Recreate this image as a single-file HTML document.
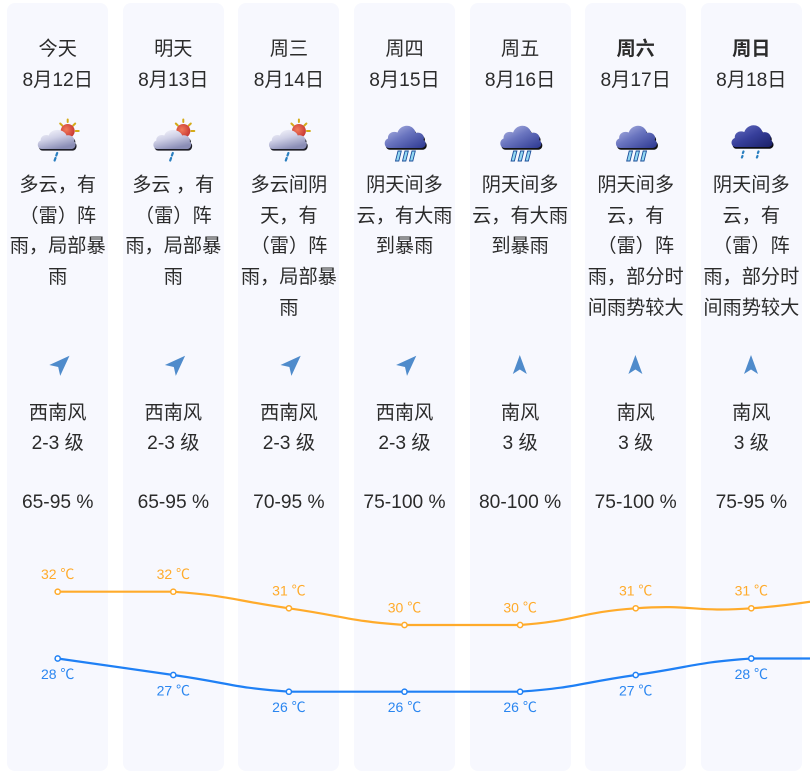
<!DOCTYPE html>
<html><head><meta charset="utf-8">
<style>
html,body{margin:0;padding:0;background:#fff;}
body{width:810px;height:772px;position:relative;overflow:hidden;font-family:"Liberation Sans","Noto Sans CJK SC",sans-serif;color:#2b2b2b;}
.col{position:absolute;top:3px;width:101px;height:768px;background:#f7f8fe;border-radius:8px;}
.t{position:absolute;width:140px;text-align:center;font-size:19.2px;line-height:30.7px;white-space:nowrap;}
.b{font-weight:bold;}
svg{position:absolute;left:0;top:0;}
</style></head><body>

<div class="col" style="left:7.2px"></div>
<div class="col" style="left:122.8px"></div>
<div class="col" style="left:238.4px"></div>
<div class="col" style="left:354px"></div>
<div class="col" style="left:469.6px"></div>
<div class="col" style="left:585.2px"></div>
<div class="col" style="left:700.8px"></div>

<!-- headers -->
<div class="t" style="left:-12.3px;top:35px">今天<br>8月12日</div>
<div class="t" style="left:103.3px;top:35px">明天<br>8月13日</div>
<div class="t" style="left:218.9px;top:35px">周三<br>8月14日</div>
<div class="t" style="left:334.5px;top:35px">周四<br>8月15日</div>
<div class="t" style="left:450.1px;top:35px">周五<br>8月16日</div>
<div class="t" style="left:565.7px;top:35px"><span class="b">周六</span><br>8月17日</div>
<div class="t" style="left:681.3px;top:35px"><span class="b">周日</span><br>8月18日</div>

<!-- descriptions -->
<div class="t" style="left:-12.3px;top:171px">多云，有<br>（雷）阵<br>雨，局部暴<br>雨</div>
<div class="t" style="left:103.3px;top:171px">多云 ，有<br>（雷）阵<br>雨，局部暴<br>雨</div>
<div class="t" style="left:218.9px;top:171px">多云间阴<br>天，有<br>（雷）阵<br>雨，局部暴<br>雨</div>
<div class="t" style="left:334.5px;top:171px">阴天间多<br>云，有大雨<br>到暴雨</div>
<div class="t" style="left:450.1px;top:171px">阴天间多<br>云，有大雨<br>到暴雨</div>
<div class="t" style="left:565.7px;top:171px">阴天间多<br>云，有<br>（雷）阵<br>雨，部分时<br>间雨势较大</div>
<div class="t" style="left:681.3px;top:171px">阴天间多<br>云，有<br>（雷）阵<br>雨，部分时<br>间雨势较大</div>

<!-- wind -->
<div class="t" style="left:-12.3px;top:398.5px">西南风<br>2-3 级</div>
<div class="t" style="left:103.3px;top:398.5px">西南风<br>2-3 级</div>
<div class="t" style="left:218.9px;top:398.5px">西南风<br>2-3 级</div>
<div class="t" style="left:334.5px;top:398.5px">西南风<br>2-3 级</div>
<div class="t" style="left:450.1px;top:398.5px">南风<br>3 级</div>
<div class="t" style="left:565.7px;top:398.5px">南风<br>3 级</div>
<div class="t" style="left:681.3px;top:398.5px">南风<br>3 级</div>

<!-- humidity -->
<div class="t" style="left:-12.3px;top:487.5px">65-95 %</div>
<div class="t" style="left:103.3px;top:487.5px">65-95 %</div>
<div class="t" style="left:218.9px;top:487.5px">70-95 %</div>
<div class="t" style="left:334.5px;top:487.5px">75-100 %</div>
<div class="t" style="left:450.1px;top:487.5px">80-100 %</div>
<div class="t" style="left:565.7px;top:487.5px">75-100 %</div>
<div class="t" style="left:681.3px;top:487.5px">75-95 %</div>

<svg width="810" height="772" viewBox="0 0 810 772">
<defs>
  <radialGradient id="sunG" cx="0.4" cy="0.4" r="0.7">
    <stop offset="0" stop-color="#f27a5a"/>
    <stop offset="1" stop-color="#c2302e"/>
  </radialGradient>
  <linearGradient id="cA" x1="0" y1="0" x2="0.5" y2="1">
    <stop offset="0" stop-color="#fbfbff"/>
    <stop offset="0.5" stop-color="#cfd0e6"/>
    <stop offset="1" stop-color="#8a8db6"/>
  </linearGradient>
  <linearGradient id="cB" x1="0" y1="0" x2="1" y2="1">
    <stop offset="0" stop-color="#b9bee8"/>
    <stop offset="0.45" stop-color="#6b76c0"/>
    <stop offset="1" stop-color="#2c3790"/>
  </linearGradient>
  <linearGradient id="cC" x1="0" y1="0" x2="1" y2="1">
    <stop offset="0" stop-color="#6a72c4"/>
    <stop offset="0.5" stop-color="#363e9a"/>
    <stop offset="1" stop-color="#1a2068"/>
  </linearGradient>
</defs>

<!-- Icon A: partly cloudy shower -->
<g transform="translate(35.7,118)">
  <g stroke="#d4ab18" stroke-width="2" stroke-linecap="round">
    <line x1="32" y1="4" x2="32" y2="1.5"/>
    <line x1="37.5" y1="7.5" x2="39.5" y2="5.5"/>
    <line x1="40" y1="13" x2="43" y2="13"/>
    <line x1="26.5" y1="7.5" x2="24.5" y2="5.5"/>
  </g>
  <circle cx="32" cy="13" r="7" fill="url(#sunG)"/>
  <path transform="translate(1,1.6)" fill="#1c1c24" d="M6,31 C1.5,31 0.5,24 5,22.5 C4.5,18.5 9,16 13,17.5 C14.5,13 19,11.5 23,12 C27,12.5 30,15 31,17.5 C35,16.5 39.5,19.5 38.5,23.5 C41,25 40,31 36,31 Z"/>
  <path fill="url(#cA)" d="M6,31 C1.5,31 0.5,24 5,22.5 C4.5,18.5 9,16 13,17.5 C14.5,13 19,11.5 23,12 C27,12.5 30,15 31,17.5 C35,16.5 39.5,19.5 38.5,23.5 C41,25 40,31 36,31 Z"/>
  <g stroke="#2a7fc0" stroke-width="2.2" stroke-linecap="round">
    <line x1="21.5" y1="35" x2="20.6" y2="37.5"/>
    <line x1="19.8" y1="40" x2="18.9" y2="42.5"/>
  </g>
</g>
<g transform="translate(151.3,118)">
  <g stroke="#d4ab18" stroke-width="2" stroke-linecap="round">
    <line x1="32" y1="4" x2="32" y2="1.5"/>
    <line x1="37.5" y1="7.5" x2="39.5" y2="5.5"/>
    <line x1="40" y1="13" x2="43" y2="13"/>
    <line x1="26.5" y1="7.5" x2="24.5" y2="5.5"/>
  </g>
  <circle cx="32" cy="13" r="7" fill="url(#sunG)"/>
  <path transform="translate(1,1.6)" fill="#1c1c24" d="M6,31 C1.5,31 0.5,24 5,22.5 C4.5,18.5 9,16 13,17.5 C14.5,13 19,11.5 23,12 C27,12.5 30,15 31,17.5 C35,16.5 39.5,19.5 38.5,23.5 C41,25 40,31 36,31 Z"/>
  <path fill="url(#cA)" d="M6,31 C1.5,31 0.5,24 5,22.5 C4.5,18.5 9,16 13,17.5 C14.5,13 19,11.5 23,12 C27,12.5 30,15 31,17.5 C35,16.5 39.5,19.5 38.5,23.5 C41,25 40,31 36,31 Z"/>
  <g stroke="#2a7fc0" stroke-width="2.2" stroke-linecap="round">
    <line x1="21.5" y1="35" x2="20.6" y2="37.5"/>
    <line x1="19.8" y1="40" x2="18.9" y2="42.5"/>
  </g>
</g>
<g transform="translate(266.9,118)">
  <g stroke="#d4ab18" stroke-width="2" stroke-linecap="round">
    <line x1="32" y1="4" x2="32" y2="1.5"/>
    <line x1="37.5" y1="7.5" x2="39.5" y2="5.5"/>
    <line x1="40" y1="13" x2="43" y2="13"/>
    <line x1="26.5" y1="7.5" x2="24.5" y2="5.5"/>
  </g>
  <circle cx="32" cy="13" r="7" fill="url(#sunG)"/>
  <path transform="translate(1,1.6)" fill="#1c1c24" d="M6,31 C1.5,31 0.5,24 5,22.5 C4.5,18.5 9,16 13,17.5 C14.5,13 19,11.5 23,12 C27,12.5 30,15 31,17.5 C35,16.5 39.5,19.5 38.5,23.5 C41,25 40,31 36,31 Z"/>
  <path fill="url(#cA)" d="M6,31 C1.5,31 0.5,24 5,22.5 C4.5,18.5 9,16 13,17.5 C14.5,13 19,11.5 23,12 C27,12.5 30,15 31,17.5 C35,16.5 39.5,19.5 38.5,23.5 C41,25 40,31 36,31 Z"/>
  <g stroke="#2a7fc0" stroke-width="2.2" stroke-linecap="round">
    <line x1="21.5" y1="35" x2="20.6" y2="37.5"/>
    <line x1="19.8" y1="40" x2="18.9" y2="42.5"/>
  </g>
</g>

<!-- Icon B: heavy rain -->
<g transform="translate(382.5,118)">
  <path transform="translate(1,1.8)" fill="#111" d="M6.5,30 C1.5,30 0.5,22.5 5.5,20.5 C5,15.5 10,12.5 15,14.5 C17,8.5 24,6 29,9 C32,11 33,13.5 33,15 C38,13.5 43,17.5 41,22 C44.5,23.5 44,30 38.5,30 Z"/>
  <path fill="url(#cB)" d="M6.5,30 C1.5,30 0.5,22.5 5.5,20.5 C5,15.5 10,12.5 15,14.5 C17,8.5 24,6 29,9 C32,11 33,13.5 33,15 C38,13.5 43,17.5 41,22 C44.5,23.5 44,30 38.5,30 Z"/>
  <g fill="#93d8f2" stroke="#1d4f9a" stroke-width="0.9">
    <polygon points="15.5,33 18.8,33 16.3,43 13,43"/>
    <polygon points="22.5,33 25.8,33 23.3,43 20,43"/>
    <polygon points="29.5,33 32.8,33 30.3,43 27,43"/>
  </g>
</g>
<g transform="translate(498.1,118)">
  <path transform="translate(1,1.8)" fill="#111" d="M6.5,30 C1.5,30 0.5,22.5 5.5,20.5 C5,15.5 10,12.5 15,14.5 C17,8.5 24,6 29,9 C32,11 33,13.5 33,15 C38,13.5 43,17.5 41,22 C44.5,23.5 44,30 38.5,30 Z"/>
  <path fill="url(#cB)" d="M6.5,30 C1.5,30 0.5,22.5 5.5,20.5 C5,15.5 10,12.5 15,14.5 C17,8.5 24,6 29,9 C32,11 33,13.5 33,15 C38,13.5 43,17.5 41,22 C44.5,23.5 44,30 38.5,30 Z"/>
  <g fill="#93d8f2" stroke="#1d4f9a" stroke-width="0.9">
    <polygon points="15.5,33 18.8,33 16.3,43 13,43"/>
    <polygon points="22.5,33 25.8,33 23.3,43 20,43"/>
    <polygon points="29.5,33 32.8,33 30.3,43 27,43"/>
  </g>
</g>
<g transform="translate(613.7,118)">
  <path transform="translate(1,1.8)" fill="#111" d="M6.5,30 C1.5,30 0.5,22.5 5.5,20.5 C5,15.5 10,12.5 15,14.5 C17,8.5 24,6 29,9 C32,11 33,13.5 33,15 C38,13.5 43,17.5 41,22 C44.5,23.5 44,30 38.5,30 Z"/>
  <path fill="url(#cB)" d="M6.5,30 C1.5,30 0.5,22.5 5.5,20.5 C5,15.5 10,12.5 15,14.5 C17,8.5 24,6 29,9 C32,11 33,13.5 33,15 C38,13.5 43,17.5 41,22 C44.5,23.5 44,30 38.5,30 Z"/>
  <g fill="#93d8f2" stroke="#1d4f9a" stroke-width="0.9">
    <polygon points="15.5,33 18.8,33 16.3,43 13,43"/>
    <polygon points="22.5,33 25.8,33 23.3,43 20,43"/>
    <polygon points="29.5,33 32.8,33 30.3,43 27,43"/>
  </g>
</g>

<!-- Icon C: dark cloud with drops -->
<g transform="translate(729.3,118)">
  <path transform="translate(1,1.8)" fill="#0c0c14" d="M6.5,29 C1.5,29 0.5,22 5.5,20 C5,15 10,12 15,14 C17,8 24,5.5 29,8.5 C32,10.5 33,13 33,14.5 C38,13 43,17 41,21.5 C44.5,23 44,29 38.5,29 Z"/>
  <path fill="url(#cC)" d="M6.5,29 C1.5,29 0.5,22 5.5,20 C5,15 10,12 15,14 C17,8 24,5.5 29,8.5 C32,10.5 33,13 33,14.5 C38,13 43,17 41,21.5 C44.5,23 44,29 38.5,29 Z"/>
  <g stroke="#2a7fc0" stroke-width="2.2" stroke-linecap="round">
    <line x1="14.2" y1="33.5" x2="13.6" y2="35"/>
    <line x1="13.2" y1="38" x2="12.6" y2="39.5"/>
    <line x1="29.2" y1="33.5" x2="28.6" y2="35"/>
    <line x1="28.2" y1="38" x2="27.6" y2="39.5"/>
  </g>
</g>

<!-- wind arrows -->
<g fill="#4f8bcb">
  <polygon points="69.5,355.7 60.2,375.9 58.2,367 49.3,365"/>
  <polygon points="185.1,355.7 175.8,375.9 173.8,367 164.9,365"/>
  <polygon points="300.7,355.7 291.4,375.9 289.4,367 280.5,365"/>
  <polygon points="416.3,355.7 407,375.9 405,367 396.1,365"/>
  <polygon points="519.8,355 526.8,374 519.8,369.5 512.8,374"/>
  <polygon points="635.4,355 642.4,374 635.4,369.5 628.4,374"/>
  <polygon points="751,355 758,374 751,369.5 744,374"/>
</g>

<!-- temperature lines -->
<path fill="none" stroke="#ffab2b" stroke-width="2.2" d="M57.7,591.7 C57.7,591.7 115.5,591.7 173.3,591.7 C231.1,595.9 231.1,600 288.9,608.3 C346.7,616.6 346.7,620.8 404.5,625 C462.3,625 462.3,625 520.1,625 C577.9,620.8 577.9,612.5 635.7,608.3 C693.5,604.1 693.5,612.5 751.3,608.3 C809.1,604.2 866.9,591.7 866.9,591.7"/>
<path fill="none" stroke="#1f80f5" stroke-width="2.2" d="M57.7,658.5 C57.7,658.5 115.5,666.7 173.3,675 C231.1,683.3 231.1,687.5 288.9,691.7 C346.7,691.7 346.7,691.7 404.5,691.7 C462.3,691.7 462.3,691.7 520.1,691.7 C577.9,687.5 577.9,683.3 635.7,675 C693.5,666.7 693.5,662.6 751.3,658.5 C809.1,658.5 866.9,658.5 866.9,658.5"/>

<g fill="#fff" stroke="#ffab2b" stroke-width="1.5">
  <circle cx="57.7" cy="591.7" r="2.6"/>
  <circle cx="173.3" cy="591.7" r="2.6"/>
  <circle cx="288.9" cy="608.3" r="2.6"/>
  <circle cx="404.5" cy="625" r="2.6"/>
  <circle cx="520.1" cy="625" r="2.6"/>
  <circle cx="635.7" cy="608.3" r="2.6"/>
  <circle cx="751.3" cy="608.3" r="2.6"/>
</g>
<g fill="#fff" stroke="#1f80f5" stroke-width="1.5">
  <circle cx="57.7" cy="658.5" r="2.6"/>
  <circle cx="173.3" cy="675" r="2.6"/>
  <circle cx="288.9" cy="691.7" r="2.6"/>
  <circle cx="404.5" cy="691.7" r="2.6"/>
  <circle cx="520.1" cy="691.7" r="2.6"/>
  <circle cx="635.7" cy="675" r="2.6"/>
  <circle cx="751.3" cy="658.5" r="2.6"/>
</g>

<g font-family="Liberation Sans, Noto Sans CJK SC, sans-serif" font-size="14" text-anchor="middle" fill="#ffab2b">
  <text x="57.7" y="579">32 ℃</text>
  <text x="173.3" y="579">32 ℃</text>
  <text x="288.9" y="595.6">31 ℃</text>
  <text x="404.5" y="612.3">30 ℃</text>
  <text x="520.1" y="612.3">30 ℃</text>
  <text x="635.7" y="595.6">31 ℃</text>
  <text x="751.3" y="595.6">31 ℃</text>
</g>
<g font-family="Liberation Sans, Noto Sans CJK SC, sans-serif" font-size="14" text-anchor="middle" fill="#2a86f0">
  <text x="57.7" y="679">28 ℃</text>
  <text x="173.3" y="695.5">27 ℃</text>
  <text x="288.9" y="712.2">26 ℃</text>
  <text x="404.5" y="712.2">26 ℃</text>
  <text x="520.1" y="712.2">26 ℃</text>
  <text x="635.7" y="695.5">27 ℃</text>
  <text x="751.3" y="679">28 ℃</text>
</g>
</svg>
</body></html>
